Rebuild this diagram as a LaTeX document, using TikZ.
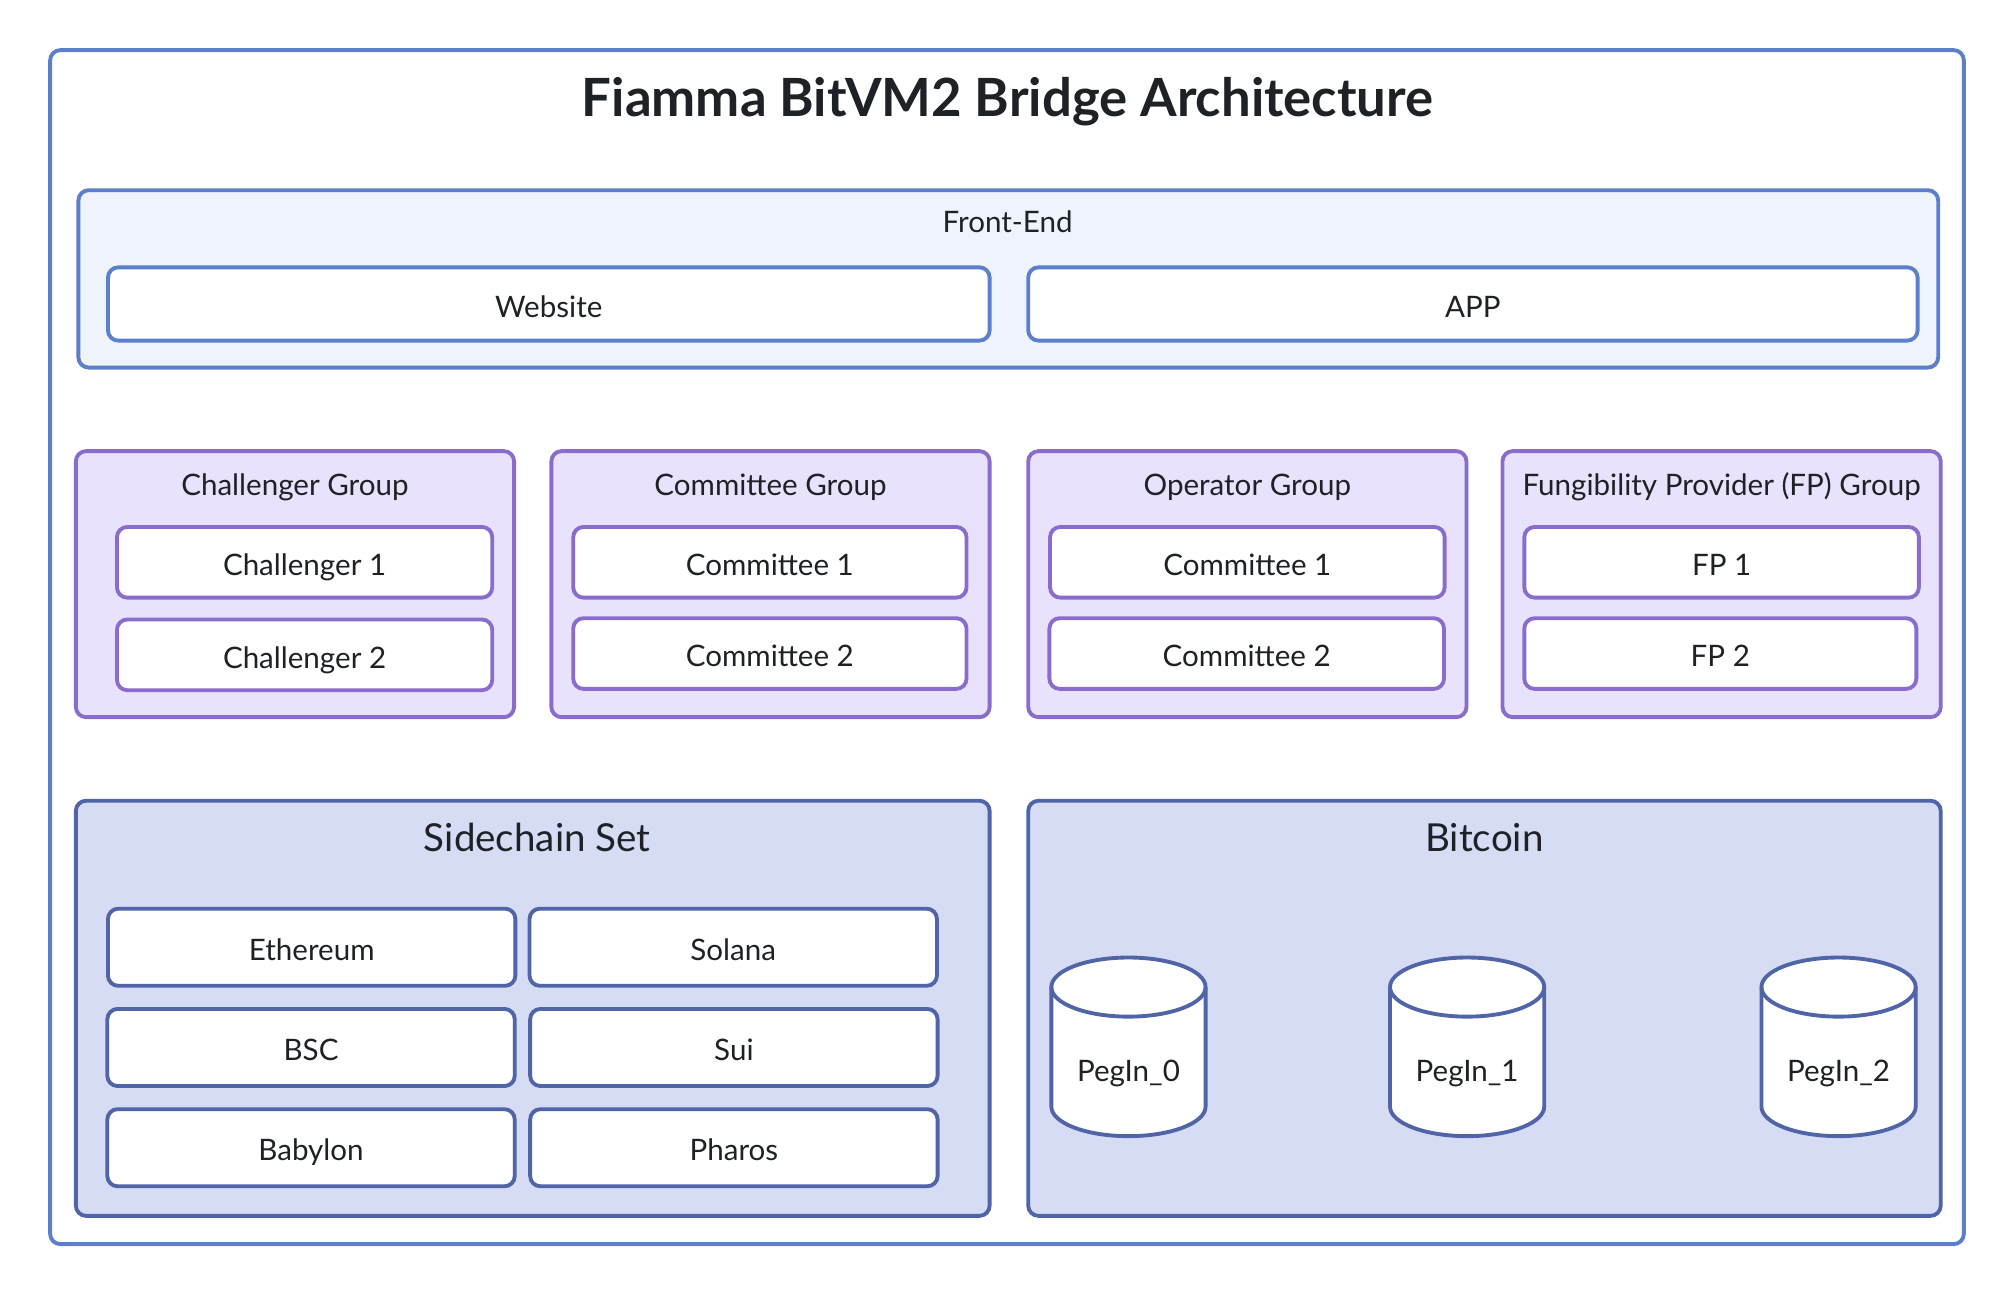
\documentclass[tikz,border=0pt]{standalone}
\usepackage{fontspec}
\setmainfont{Lato}

\definecolor{frameblue}{HTML}{5B7FCB}
\definecolor{fefill}{HTML}{EEF3FC}
\definecolor{grpline}{HTML}{8A6CCD}
\definecolor{grpfill}{HTML}{E9E2FC}
\definecolor{chainline}{HTML}{5064A8}
\definecolor{chainfill}{HTML}{D6DCF4}
\definecolor{ink}{HTML}{1E2227}

\tikzset{
  box/.style={draw, line width=3pt, rounded corners=8pt, inner sep=0pt,
    text=ink, font=\fontsize{23}{26}\selectfont, text height=20.5pt, text depth=0pt},
  frame/.style={box, draw=frameblue, fill=white},
  fegroup/.style={box, draw=frameblue, fill=fefill},
  febox/.style={box, draw=frameblue, fill=white, minimum height=57pt},
  grp/.style={box, draw=grpline, fill=grpfill, minimum width=341pt, minimum height=207pt},
  grpbox/.style={box, draw=grpline, fill=white, minimum height=55pt},
  chain/.style={box, draw=chainline, fill=chainfill, minimum height=323pt},
  chainbox/.style={box, draw=chainline, fill=white, minimum width=317pt, minimum height=60pt},
  lbl/.style={text=ink, inner sep=0pt, font=\fontsize{23}{26}\selectfont, text height=16.5pt, text depth=0pt},
  head/.style={lbl, font=\fontsize{30}{34}\selectfont, text height=21.5pt},
  drumline/.style={draw=chainline, fill=white, line width=3pt},
  drum/.pic={
    \path[drumline] (-60,-46.5) -- (-60,46.5) arc (180:360:60pt and 23pt)
      -- (60,-46.5) arc (0:180:60pt and 23pt) -- cycle;
    \draw[drumline, fill=none] (-60,-46.5) arc (180:360:60pt and 23pt);
  },
}

\begin{document}
\begin{tikzpicture}[x=1pt, y=-1pt]
\useasboundingbox (0,0) rectangle (1567,1008.4);

\node[frame, minimum width=1489pt, minimum height=929pt] (frame) at (783.5,503.5) {};
\node[lbl, font=\fontsize{41}{45}\selectfont\bfseries, text height=29.4pt] (title) at (784,76) {Fiamma BitVM2 Bridge Architecture};

% front end
\node[fegroup, minimum width=1447pt, minimum height=138pt] (frontend) at (784.5,217) {};
\node[lbl] (frontendt) at (784,173) {Front-End};
\node[febox, minimum width=686pt] (website) at (427,236.5) {Website};
\node[febox, minimum width=692pt] (app) at (1146,236.5) {APP};

% groups
\node[grp] (challengers) at (229.5,454.5) {};
\node[lbl] (challengerst) at (229.5,377) {Challenger Group};
\node[grpbox, minimum width=292pt] (chal1) at (237,437.5) {Challenger 1};
\node[grpbox, minimum width=292pt] (chal2) at (237,509.5) {Challenger 2};

\node[grp] (committee) at (599.5,454.5) {};
\node[lbl] (committeet) at (599.5,377) {Committee Group};
\node[grpbox, minimum width=306pt] (comm1) at (599,437.5) {Committee 1};
\node[grpbox, minimum width=306pt] (comm2) at (599,508.5) {Committee 2};

\node[grp] (operators) at (970.5,454.5) {};
\node[lbl] (operatorst) at (970.5,377) {Operator Group};
\node[grpbox, minimum width=307pt] (oper1) at (970.5,437.5) {Committee 1};
\node[grpbox, minimum width=307pt] (oper2) at (970,508.5) {Committee 2};

\node[grp] (fps) at (1339.5,454.5) {};
\node[lbl] (fpst) at (1339.5,377) {Fungibility Provider (FP) Group};
\node[grpbox, minimum width=307pt] (fp1) at (1339.5,437.5) {FP 1};
\node[grpbox, minimum width=305pt] (fp2) at (1338.5,508.5) {FP 2};

% sidechains
\node[chain, minimum width=711pt] (sidechains) at (414.5,784.5) {};
\node[head] (sidechainst) at (418,652) {Sidechain Set};
\node[chainbox] (eth) at (242.5,737) {Ethereum};
\node[chainbox] (sol) at (570.5,737) {Solana};
\node[chainbox] (bsc) at (242,815) {BSC};
\node[chainbox] (sui) at (571,815) {Sui};
\node[chainbox] (babylon) at (242,893) {Babylon};
\node[chainbox] (pharos) at (571,893) {Pharos};

% bitcoin
\node[chain, minimum width=710pt] (bitcoin) at (1155,784.5) {};
\node[head] (bitcoint) at (1155,652) {Bitcoin};
\pic (peg0) at (878,814.5) {drum};
\node[lbl] (peg0t) at (878,833) {PegIn\_0};
\pic (peg1) at (1141.5,814.5) {drum};
\node[lbl] (peg1t) at (1141.5,833) {PegIn\_1};
\pic (peg2) at (1430.5,814.5) {drum};
\node[lbl] (peg2t) at (1430.5,833) {PegIn\_2};
\end{tikzpicture}
\end{document}
